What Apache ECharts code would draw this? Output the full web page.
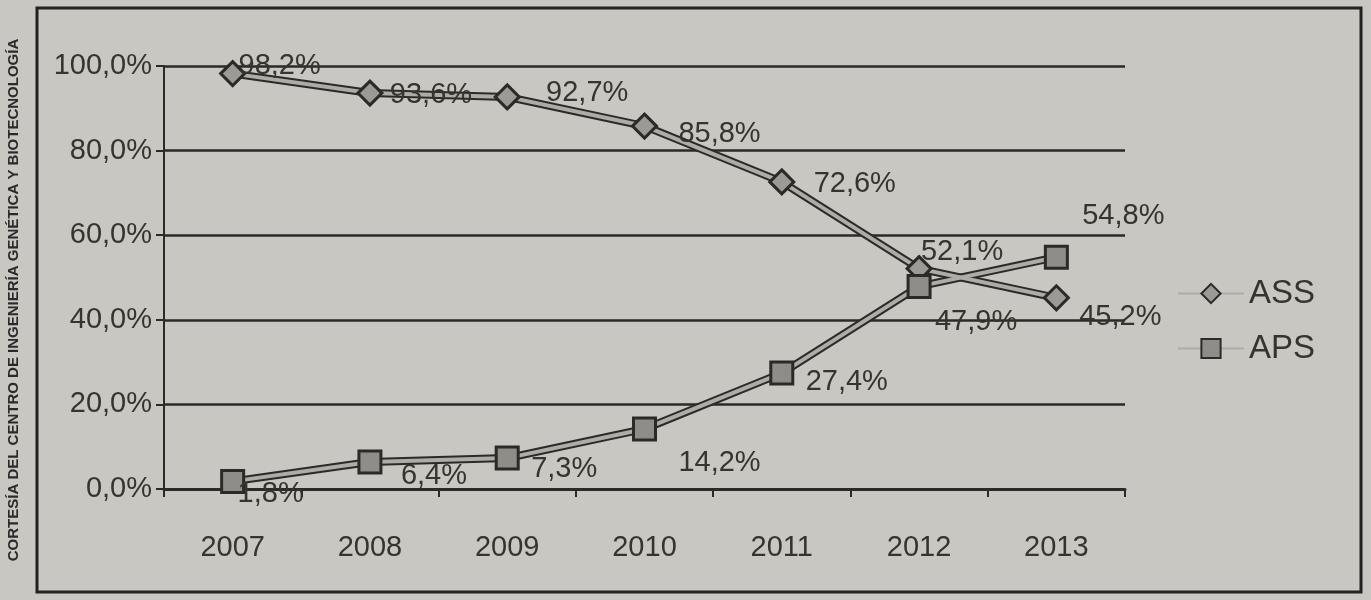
<!DOCTYPE html>
<html><head><meta charset="utf-8">
<script src="https://cdn.jsdelivr.net/npm/echarts@6/dist/echarts.min.js"></script>
<style>html,body{margin:0;padding:0;background:#c9c7c1}#c{width:1371px;height:600px}</style>
</head><body><div id="c"></div>
<script>
const years = ['2007','2008','2009','2010','2011','2012','2013'];
const ass = [98.2, 93.6, 92.7, 85.8, 72.6, 52.1, 45.2];
const aps = [1.8, 6.4, 7.3, 14.2, 27.4, 47.9, 54.8];
const yTicks = [0, 20, 40, 60, 80, 100];
const credit = 'CORTESÍA DEL CENTRO DE INGENIERÍA GENÉTICA Y BIOTECNOLOGÍA';

// label offsets (styling only)
const assOff = [[47,-8],[61,2],[80,-4],[75,8],[73,2],[43,-17],[64,19]];
const apsOff = [[38,13],[64,14],[57,11],[75,34],[65,9],[57,36],[67,-41]];

const fmt = v => v.toFixed(1).replace('.', ',') + '%';
const dark = '#2b2a28';
const txt = '#35342f';

function items(vals, offs) {
  return vals.map((v, i) => ({
    value: v,
    label: { show: true, position: 'inside', offset: offs[i], formatter: fmt(v),
      color: txt, fontSize: 29, fontFamily: 'Liberation Sans, Arial', align: 'center', verticalAlign: 'middle' }
  }));
}

const chart = echarts.init(document.getElementById('c'));
chart.setOption({
  backgroundColor: '#c9c7c1',
  animation: false,
  grid: { left: 164, right: 246, top: 66, bottom: 111, containLabel: false },
  xAxis: {
    type: 'category', data: years, boundaryGap: true,
    axisLine: { lineStyle: { color: dark, width: 3 } },
    axisTick: { show: true, length: 8, lineStyle: { color: dark, width: 2 } },
    axisLabel: { color: txt, fontSize: 29, fontFamily: 'Liberation Sans, Arial', margin: 44 }
  },
  yAxis: {
    type: 'value', min: yTicks[0], max: yTicks[yTicks.length-1], interval: 20,
    axisLine: { show: true, lineStyle: { color: dark, width: 2 } },
    axisTick: { show: true, length: 8, lineStyle: { color: dark, width: 2 } },
    splitLine: { lineStyle: { color: dark, width: 2.5 } },
    axisLabel: { color: txt, fontSize: 29, fontFamily: 'Liberation Sans, Arial', margin: 12, formatter: v => fmt(v) }
  },
  legend: {
    orient: 'vertical', left: 1172, top: 272, itemGap: 22,
    itemWidth: 66, itemHeight: 24,
    textStyle: { color: txt, fontSize: 33, fontFamily: 'Liberation Sans, Arial' },
    data: ['ASS', 'APS']
  },
  graphic: [
    { type: 'rect', shape: { x: 37, y: 8, width: 1324, height: 584 }, style: { fill: 'none', stroke: '#222', lineWidth: 3 } },
    { type: 'text', x: 14, y: 300, rotation: Math.PI/2, style: { text: credit, fill: '#2a2a2a', font: 'bold 15px Liberation Sans, Arial', align: 'center', verticalAlign: 'middle' } }
  ],
  series: [
    { name: 'ASS_b', type: 'line', data: ass, symbol: 'none', silent: true, z: 2,
      lineStyle: { color: dark, width: 8 } },
    { name: 'APS_b', type: 'line', data: aps, symbol: 'none', silent: true, z: 2,
      lineStyle: { color: dark, width: 8 } },
    { name: 'ASS', type: 'line', data: items(ass, assOff), symbol: 'diamond', symbolSize: 24, z: 3,
      lineStyle: { color: '#aeaca6', width: 4 },
      itemStyle: { color: '#9c9a95', borderColor: dark, borderWidth: 3 } },
    { name: 'APS', type: 'line', data: items(aps, apsOff), symbol: 'rect', symbolSize: 22, z: 3,
      lineStyle: { color: '#aeaca6', width: 4 },
      itemStyle: { color: '#8f8d88', borderColor: dark, borderWidth: 3 } }
  ]
});
</script></body></html>
